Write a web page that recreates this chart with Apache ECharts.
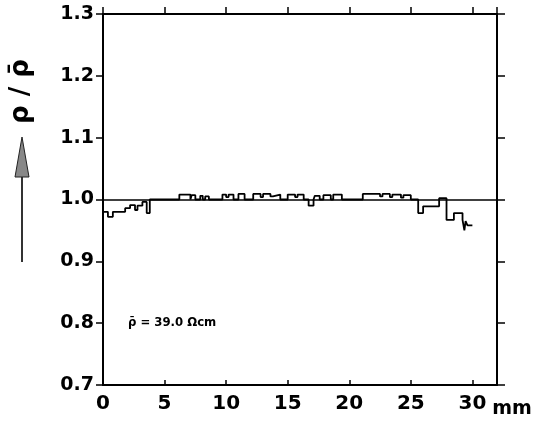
<!DOCTYPE html>
<html>
<head>
<meta charset="utf-8">
<script src="https://cdn.jsdelivr.net/npm/echarts@6/dist/echarts.min.js"></script>
<style>
  html, body { margin: 0; padding: 0; background: #fff; }
  #chart { width: 542px; height: 425px; }
</style>
</head>
<body>
<div id="chart"></div>
<script>
  // position along the sample (mm) and relative resistivity, step profile
  var positionMm = [0, 0.4, 0.8, 1.8, 2.2, 2.6, 2.8, 3.2, 3.55, 3.8,
    6.2, 7.1, 7.2, 7.5, 7.9, 8.1, 8.3, 8.6, 9.7, 10.0,
    10.2, 10.6, 11.0, 11.5, 12.2, 12.8, 13.0, 13.6, 13.8, 14.4,
    15.0, 15.6, 15.8, 16.3, 16.7, 17.1, 17.2, 17.6, 17.9, 18.5,
    18.7, 19.4, 21.1, 22.5, 22.7, 23.3, 23.5, 24.2, 24.4, 25.0,
    25.6, 26.0, 27.3, 27.9, 28.5, 29.2, 29.35, 29.45, 29.6, 30.0];
  var rhoRatio = [0.980, 0.972, 0.980, 0.986, 0.991, 0.983, 0.990, 0.996, 0.978, 1.000,
    1.008, 1.000, 1.007, 1.000, 1.006, 1.000, 1.005, 1.000, 1.008, 1.004,
    1.008, 1.000, 1.009, 1.000, 1.009, 1.004, 1.009, 1.005, 1.008, 1.000,
    1.008, 1.004, 1.008, 1.000, 0.990, 1.000, 1.006, 1.000, 1.007, 1.000,
    1.008, 1.000, 1.009, 1.005, 1.009, 1.004, 1.008, 1.003, 1.007, 1.000,
    0.978, 0.989, 1.002, 0.967, 0.978, 0.967, 0.950, 0.965, 0.958, 0.958];
  var refLevel = [1.0];
  var xTicks = [0, 5, 10, 15, 20, 25, 30];
  var meanRho = '39.0';

  var chart = echarts.init(document.getElementById('chart'));
  var fontB = 'DejaVu Sans';

  var pts = [];
  for (var i = 0; i < positionMm.length; i++) {
    pts.push([positionMm[i], rhoRatio[i]]);
  }

  var option = {
    backgroundColor: '#fff',
    animation: false,
    grid: { left: 103, right: 45, top: 14, bottom: 40 },
    xAxis: [
      {
        type: 'value', min: 0, max: 32, interval: 5,
        axisLine: { onZero: false, lineStyle: { color: '#000', width: 2 } },
        axisTick: { inside: true, length: 5, lineStyle: { color: '#000', width: 1.5 } },
        splitLine: { show: false },
        axisLabel: {
          color: '#000', fontFamily: fontB, fontWeight: 'bold', fontSize: 20, margin: 9,
          showMaxLabel: false,
          formatter: function (v) { return xTicks.indexOf(v) >= 0 ? String(v) : ''; }
        },
        name: 'mm', nameLocation: 'end', nameGap: -8,
        nameTextStyle: { color: '#000', fontFamily: fontB, fontWeight: 'bold', fontSize: 19,
          align: 'left', verticalAlign: 'top', padding: [15, 0, 0, 0] }
      },
      {
        type: 'value', min: 0, max: 32, interval: 5, position: 'top',
        axisLine: { onZero: false, lineStyle: { color: '#000', width: 2 } },
        axisTick: { inside: false, length: 7, lineStyle: { color: '#000', width: 1.5 } },
        axisLabel: { show: false },
        splitLine: { show: false }
      }
    ],
    yAxis: [
      {
        type: 'value', min: 0.7, max: 1.3, interval: 0.1,
        axisLine: { show: true, onZero: false, lineStyle: { color: '#000', width: 2 } },
        axisTick: { show: true, inside: false, length: 7, lineStyle: { color: '#000', width: 1.5 } },
        splitLine: { show: false },
        axisLabel: {
          color: '#000', fontFamily: fontB, fontWeight: 'bold', fontSize: 19, margin: 9,
          formatter: function (v) { return v.toFixed(1); }
        }
      },
      {
        type: 'value', min: 0.7, max: 1.3, interval: 0.1, position: 'right',
        axisLine: { show: true, onZero: false, lineStyle: { color: '#000', width: 2 } },
        axisTick: { show: true, inside: false, length: 8, lineStyle: { color: '#000', width: 1.5 } },
        axisLabel: { show: false },
        splitLine: { show: false }
      }
    ],
    series: [
      {
        type: 'line',
        step: 'end',
        data: pts,
        showSymbol: false,
        lineStyle: { color: '#000', width: 1.8 },
        markLine: {
          silent: true,
          symbol: ['none', 'none'],
          label: { show: false },
          lineStyle: { color: '#000', width: 1.5, type: 'solid' },
          data: refLevel.map(function (v) { return { yAxis: v }; })
        }
      }
    ],
    graphic: [
      {
        type: 'text', x: 8, y: 124, rotation: Math.PI / 2,
        style: { text: 'ρ / ρ̄', fill: '#000', font: 'bold 26px "DejaVu Sans"', textAlign: 'left', textVerticalAlign: 'top' }
      },
      {
        type: 'line', shape: { x1: 22, y1: 262, x2: 22, y2: 172 },
        style: { stroke: '#333', lineWidth: 2 }
      },
      {
        type: 'polygon', shape: { points: [[22, 137], [15, 177], [29, 177]] },
        style: { fill: '#888', stroke: '#222', lineWidth: 1 }
      },
      {
        type: 'text', x: 128, y: 323,
        style: { text: 'ρ̄ = ' + meanRho + ' Ωcm', fill: '#000', font: 'bold 13px "DejaVu Sans Condensed"', textVerticalAlign: 'middle' }
      }
    ]
  };

  chart.setOption(option);
</script>
</body>
</html>
